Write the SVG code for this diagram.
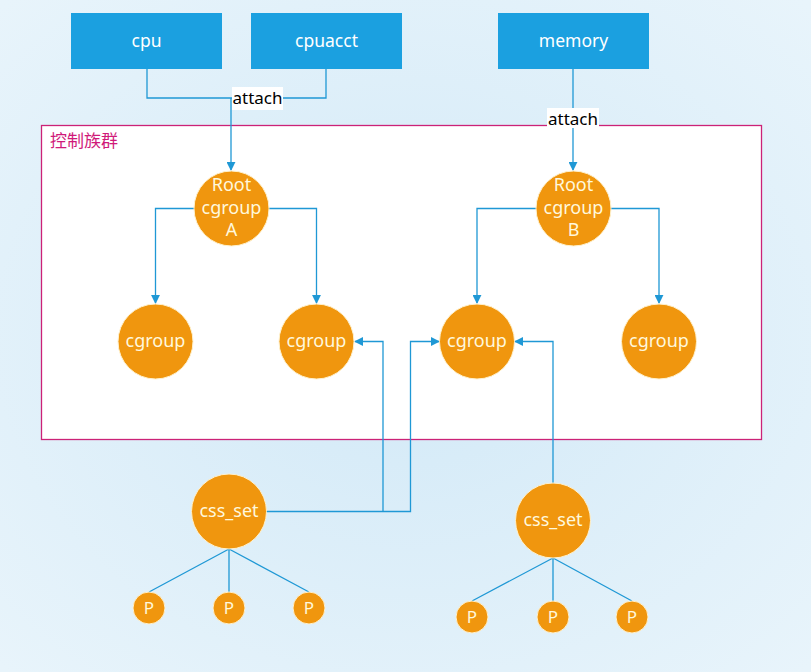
<svg xmlns="http://www.w3.org/2000/svg" width="811" height="672" viewBox="0 0 811 672">
<defs>
<radialGradient id="bg" cx="50%" cy="50%" r="70%">
<stop offset="0" stop-color="#D2E9F7"/>
<stop offset="1" stop-color="#E8F4FB"/>
</radialGradient>
<marker id="arr" viewBox="0 0 10 10" refX="9" refY="5" markerWidth="9" markerHeight="9" markerUnits="userSpaceOnUse" orient="auto">
<path d="M0,0 L10,5 L0,10 z" fill="#1F98D5"/>
</marker>
<style>
.box{fill:#1BA0E0}
.boxt{font-family:"Noto Sans","Open Sans",sans-serif;font-size:17.5px;fill:#FFFFFF;text-anchor:middle}
.node{fill:#F0960E;stroke:#FFF1CC;stroke-width:1}
.nt{font-family:"Noto Sans","Open Sans",sans-serif;font-size:18px;fill:#FFF8DC;text-anchor:middle}
.pt{font-family:"Noto Sans","Open Sans",sans-serif;font-size:17px;fill:#FFF8DC;text-anchor:middle}
.ln{fill:none;stroke:#1F98D5;stroke-width:1.3}
.lbl{font-family:"Noto Sans","Open Sans",sans-serif;font-size:17px;fill:#000000;text-anchor:middle}
</style>
</defs>
<rect x="0" y="0" width="811" height="672" fill="url(#bg)"/>

<g id="container">
<rect x="41.5" y="125.5" width="720" height="314" fill="#FFFFFF" stroke="#CC2277" stroke-width="1.3"/>
<text x="50" y="147" font-family="'Noto Sans CJK SC','Noto Sans',sans-serif" font-size="17" fill="#D01A7A">控制族群</text>
</g>

<g id="connectors">
<path class="ln" d="M147,69 V98 H231"/>
<path class="ln" d="M326,69 V98 H231"/>
<path class="ln" d="M231,98 V170" marker-end="url(#arr)"/>
<path class="ln" d="M573,69 V170" marker-end="url(#arr)"/>
<path class="ln" d="M194,208.5 H155.5 V303" marker-end="url(#arr)"/>
<path class="ln" d="M269,208.5 H316.5 V303" marker-end="url(#arr)"/>
<path class="ln" d="M536,208.5 H477 V303" marker-end="url(#arr)"/>
<path class="ln" d="M611,208.5 H659 V303" marker-end="url(#arr)"/>
<path class="ln" d="M266,511.5 H410.5 V341.5 H439" marker-end="url(#arr)"/>
<path class="ln" d="M383,511.5 V341.5 H355" marker-end="url(#arr)"/>
<path class="ln" d="M553,483 V341.5 H515" marker-end="url(#arr)"/>
<path class="ln" d="M229,549 L149,592 M229,549 V592 M229,549 L309,592"/>
<path class="ln" d="M553,558 L472,601 M553,558 V601 M553,558 L632,601"/>
<g id="label-attach-1">
<rect x="232" y="87" width="51" height="23" fill="#FFFFFF"/>
<text class="lbl" x="257.5" y="104">attach</text>
</g>
<g id="label-attach-2">
<rect x="547" y="108" width="52" height="20" fill="#FFFFFF"/>
<text class="lbl" x="573" y="124.5">attach</text>
</g>
</g>

<g id="cpu"><rect class="box" x="71" y="13" width="151" height="56"/><text class="boxt" x="146.5" y="47">cpu</text></g>
<g id="cpuacct"><rect class="box" x="251" y="13" width="151" height="56"/><text class="boxt" x="326.5" y="47">cpuacct</text></g>
<g id="memory"><rect class="box" x="498" y="13" width="151" height="56"/><text class="boxt" x="573.5" y="47">memory</text></g>

<g id="rootA"><circle class="node" cx="231.5" cy="208.5" r="37.5"/>
<text class="nt" x="231.5" y="191">Root</text><text class="nt" x="231.5" y="213.5">cgroup</text><text class="nt" x="231.5" y="236">A</text></g>
<g id="rootB"><circle class="node" cx="573.5" cy="208.5" r="37.5"/>
<text class="nt" x="573.5" y="191">Root</text><text class="nt" x="573.5" y="213.5">cgroup</text><text class="nt" x="573.5" y="236">B</text></g>

<g id="cgroup1"><circle class="node" cx="155.5" cy="341.5" r="37.5"/><text class="nt" x="155.5" y="347">cgroup</text></g>
<g id="cgroup2"><circle class="node" cx="316.5" cy="341.5" r="37.5"/><text class="nt" x="316.5" y="347">cgroup</text></g>
<g id="cgroup3"><circle class="node" cx="477" cy="341.5" r="37.5"/><text class="nt" x="477" y="347">cgroup</text></g>
<g id="cgroup4"><circle class="node" cx="659" cy="341.5" r="37.5"/><text class="nt" x="659" y="347">cgroup</text></g>

<g id="css_set1"><circle class="node" cx="229" cy="511.5" r="37.5"/><text class="nt" x="229" y="517">css_set</text></g>
<g id="css_set2"><circle class="node" cx="553" cy="520.5" r="37.5"/><text class="nt" x="553" y="526">css_set</text></g>

<g id="p1"><circle class="node" cx="149" cy="608" r="16"/><text class="pt" x="149" y="614">P</text></g>
<g id="p2"><circle class="node" cx="229" cy="608" r="16"/><text class="pt" x="229" y="614">P</text></g>
<g id="p3"><circle class="node" cx="309" cy="608" r="16"/><text class="pt" x="309" y="614">P</text></g>
<g id="p4"><circle class="node" cx="472" cy="617" r="16"/><text class="pt" x="472" y="623">P</text></g>
<g id="p5"><circle class="node" cx="553" cy="617" r="16"/><text class="pt" x="553" y="623">P</text></g>
<g id="p6"><circle class="node" cx="632" cy="617" r="16"/><text class="pt" x="632" y="623">P</text></g>
</svg>
